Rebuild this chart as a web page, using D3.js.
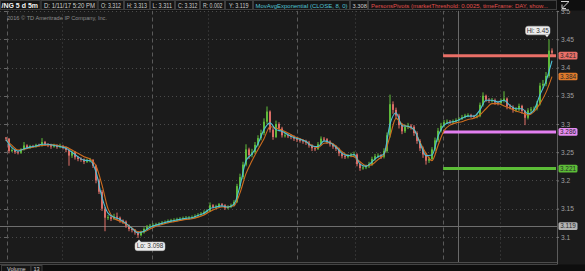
<!DOCTYPE html>
<html><head><meta charset="utf-8">
<script src="https://cdn.jsdelivr.net/npm/d3@7"></script>
<style>html,body{margin:0;padding:0;background:#1c1c1c;overflow:hidden}svg{display:block}</style>
</head><body>
<script>
// ---------- DATA ----------
const firstOpen = 3.276;
const closes = [
3.274,3.252,3.254,3.250,3.249,3.255,3.262,3.258,3.261,3.260,3.263,3.262,3.268,3.264,3.263,3.260,3.262,3.259,3.261,3.258,
3.254,3.244,3.250,3.241,3.238,3.237,3.233,3.236,3.236,3.226,3.200,3.180,3.150,3.134,3.135,3.132,3.136,3.134,3.129,3.127,
3.120,3.114,3.112,3.108,3.103,3.108,3.114,3.118,3.120,3.121,3.122,3.123,3.125,3.126,3.128,3.129,3.130,3.131,3.132,3.133,
3.133,3.134,3.135,3.137,3.139,3.141,3.144,3.146,3.156,3.153,3.154,3.158,3.156,3.151,3.153,3.156,3.162,3.190,3.206,3.228,
3.255,3.245,3.250,3.263,3.275,3.284,3.304,3.322,3.290,3.277,3.300,3.292,3.280,3.280,3.279,3.277,3.274,3.272,3.271,3.269,
3.267,3.262,3.257,3.256,3.264,3.274,3.273,3.269,3.264,3.260,3.256,3.248,3.243,3.242,3.244,3.246,3.246,3.229,3.222,3.223,
3.225,3.229,3.238,3.243,3.244,3.242,3.252,3.280,3.335,3.325,3.315,3.298,3.287,3.295,3.297,3.295,3.284,3.270,3.257,3.246,
3.235,3.238,3.255,3.271,3.288,3.297,3.303,3.304,3.303,3.305,3.307,3.309,3.312,3.315,3.316,3.314,3.313,3.314,3.334,3.350,
3.343,3.341,3.342,3.338,3.337,3.341,3.345,3.331,3.330,3.325,3.326,3.332,3.323,3.311,3.324,3.326,3.327,3.336,3.368,3.371,
3.385,3.430,3.426];
const highs = [
3.277,3.275,3.257,3.256,3.252,3.257,3.268,3.264,3.263,3.263,3.265,3.265,3.275,3.270,3.266,3.265,3.265,3.264,3.265,3.263,
3.260,3.256,3.253,3.252,3.243,3.241,3.239,3.239,3.240,3.238,3.228,3.203,3.183,3.153,3.139,3.138,3.141,3.143,3.136,3.131,
3.129,3.122,3.116,3.114,3.110,3.111,3.117,3.121,3.123,3.124,3.125,3.126,3.128,3.129,3.131,3.132,3.133,3.134,3.135,3.136,
3.137,3.137,3.138,3.140,3.142,3.144,3.147,3.149,3.161,3.158,3.157,3.160,3.160,3.158,3.156,3.159,3.165,3.194,3.212,3.233,
3.264,3.258,3.256,3.268,3.280,3.290,3.310,3.331,3.324,3.293,3.306,3.303,3.295,3.285,3.283,3.282,3.280,3.277,3.275,3.273,
3.272,3.270,3.264,3.260,3.268,3.278,3.277,3.275,3.271,3.266,3.262,3.258,3.250,3.246,3.247,3.249,3.251,3.248,3.231,3.226,
3.228,3.233,3.242,3.247,3.248,3.247,3.257,3.285,3.352,3.340,3.329,3.318,3.301,3.299,3.302,3.300,3.298,3.287,3.273,3.260,
3.249,3.242,3.259,3.276,3.293,3.302,3.307,3.308,3.307,3.308,3.310,3.312,3.316,3.318,3.319,3.318,3.316,3.318,3.338,3.356,
3.352,3.346,3.346,3.345,3.341,3.345,3.358,3.347,3.335,3.333,3.330,3.336,3.334,3.325,3.328,3.330,3.331,3.341,3.373,3.378,
3.392,3.450,3.434];
const lows = [
3.270,3.248,3.250,3.247,3.246,3.247,3.253,3.256,3.256,3.258,3.258,3.260,3.260,3.261,3.259,3.256,3.258,3.256,3.257,3.255,
3.250,3.226,3.240,3.237,3.234,3.233,3.229,3.231,3.232,3.222,3.195,3.176,3.146,3.110,3.130,3.128,3.130,3.130,3.125,3.123,
3.116,3.110,3.108,3.104,3.098,3.101,3.106,3.112,3.116,3.118,3.119,3.120,3.121,3.123,3.124,3.126,3.127,3.128,3.129,3.130,
3.130,3.131,3.132,3.133,3.135,3.137,3.139,3.142,3.144,3.150,3.150,3.151,3.153,3.148,3.149,3.151,3.154,3.160,3.186,3.202,
3.225,3.238,3.241,3.247,3.260,3.271,3.280,3.300,3.285,3.272,3.275,3.287,3.276,3.276,3.275,3.273,3.270,3.268,3.267,3.265,
3.263,3.258,3.252,3.252,3.254,3.262,3.269,3.265,3.260,3.256,3.252,3.243,3.239,3.238,3.239,3.241,3.242,3.225,3.217,3.219,
3.220,3.222,3.226,3.235,3.240,3.238,3.239,3.249,3.276,3.318,3.309,3.292,3.282,3.284,3.291,3.290,3.279,3.265,3.252,3.240,
3.228,3.231,3.235,3.252,3.268,3.285,3.294,3.300,3.300,3.301,3.303,3.305,3.307,3.310,3.312,3.311,3.310,3.310,3.312,3.331,
3.339,3.337,3.338,3.334,3.333,3.334,3.338,3.326,3.326,3.320,3.321,3.323,3.318,3.298,3.308,3.321,3.322,3.324,3.333,3.363,
3.367,3.382,3.420];
// MovAvgExponential (cyan) and slower average (orange), read every 2nd bar
const emaFast = [
3.272,3.258,3.252,3.256,3.259,3.261,3.264,3.264,3.262,3.260,3.257,3.250,3.242,3.236,3.235,3.215,3.170,3.142,3.135,3.131,
3.124,3.115,3.107,3.110,3.117,3.121,3.124,3.127,3.129,3.131,3.133,3.134,3.138,3.142,3.150,3.153,3.155,3.153,3.158,3.190,
3.235,3.247,3.265,3.290,3.302,3.290,3.287,3.281,3.276,3.273,3.269,3.261,3.260,3.270,3.267,3.259,3.248,3.244,3.246,3.229,
3.225,3.233,3.242,3.247,3.300,3.320,3.297,3.296,3.290,3.266,3.244,3.245,3.278,3.298,3.303,3.305,3.310,3.314,3.314,3.325,
3.342,3.342,3.339,3.342,3.333,3.327,3.327,3.318,3.325,3.352,3.376,3.412];
const maSlow = [
3.272,3.262,3.254,3.255,3.258,3.260,3.262,3.263,3.263,3.261,3.259,3.254,3.248,3.242,3.238,3.226,3.192,3.150,3.133,3.128,
3.123,3.116,3.109,3.109,3.114,3.119,3.122,3.125,3.127,3.129,3.131,3.132,3.135,3.139,3.145,3.150,3.153,3.153,3.155,3.178,
3.212,3.235,3.255,3.274,3.295,3.293,3.289,3.284,3.278,3.274,3.269,3.262,3.258,3.266,3.267,3.261,3.251,3.244,3.242,3.233,
3.226,3.228,3.237,3.246,3.278,3.310,3.300,3.295,3.290,3.268,3.248,3.235,3.262,3.288,3.298,3.302,3.304,3.308,3.310,3.316,
3.327,3.336,3.336,3.332,3.328,3.323,3.320,3.316,3.322,3.336,3.356,3.384];
const priceTicks = [3.1,3.15,3.2,3.25,3.3,3.35,3.4,3.45,3.5];
const sessionBreaks = [0.33, 48.7, 97, 145.7];      // bar index of day separators
const midSessionMarks = [18.7, 67.3, 116.3, 164.7]; // bar index of dotted marks
const cursorBar = 150.7;
const pivotValues = [3.421, 3.286, 3.221];
const prevClose = 3.119;
const hiValue = 3.45, hiBar = 181;
const loValue = 3.098, loBar = 44;
const headerTitle = "/NG 5 d 5m";
const headerFields = ["D: 1/11/17 5:20 PM","O: 3.312","H: 3.313","L: 3.311","C: 3.312","R: 0.002","Y: 3.119"];
const studyName = "MovAvgExponential (CLOSE, 8, 0)";
const studyValue = "3.308";
const pivotStudy = "PersonsPivots (marketThreshold: 0.0025, timeFrame: DAY, show...";
const copyright = "2016 \u00A9 TD Ameritrade IP Company, Inc.";
const volumeLabel = "Volume", volumeValue = "13";

// ---------- LAYOUT ----------
const W = 585, H = 271;
const plotL = 0, plotR = 557, plotT = 10.5, plotB = 262;
const FONT = "'Liberation Sans', Arial, sans-serif";
const svg = d3.select("body").append("svg").attr("width", W).attr("height", H);
svg.append("rect").attr("width", W).attr("height", H).attr("fill", "#1b1b1b");

const x = d3.scaleLinear().domain([0, closes.length - 1]).range([6, 552]);
const y = d3.scaleLinear().domain([3.1, 3.45]).range([236.9, 39.3]);
const xMA = i => x(i * 2);

svg.append("defs").append("clipPath").attr("id", "plot")
  .append("rect").attr("x", plotL).attr("y", plotT).attr("width", plotR - plotL).attr("height", plotB - plotT);
const g = svg.append("g").attr("clip-path", "url(#plot)");

// horizontal dotted grid
g.selectAll("line.hg").data(priceTicks).join("line")
  .attr("x1", plotL).attr("x2", plotR).attr("y1", d => Math.round(y(d)) + 0.5).attr("y2", d => Math.round(y(d)) + 0.5)
  .attr("stroke", "#4a4a4a").attr("stroke-dasharray", "1,3");
// vertical separators
g.selectAll("line.dv").data(sessionBreaks).join("line")
  .attr("x1", d => Math.round(x(d)) + 0.5).attr("x2", d => Math.round(x(d)) + 0.5).attr("y1", plotT).attr("y2", plotB)
  .attr("stroke", "#5a5a5a").attr("stroke-dasharray", "4,3");
g.selectAll("line.mv").data(midSessionMarks).join("line")
  .attr("x1", d => Math.round(x(d)) + 0.5).attr("x2", d => Math.round(x(d)) + 0.5).attr("y1", plotT).attr("y2", plotB)
  .attr("stroke", "#4a4a4a").attr("stroke-dasharray", "1,3");
g.append("line").attr("x1", Math.round(x(cursorBar)) + 0.5).attr("x2", Math.round(x(cursorBar)) + 0.5)
  .attr("y1", plotT).attr("y2", plotB).attr("stroke", "#6a6a6a");
// previous close line
g.append("line").attr("x1", plotL).attr("x2", plotR).attr("y1", Math.round(y(prevClose)) + 0.5).attr("y2", Math.round(y(prevClose)) + 0.5)
  .attr("stroke", "#6e6e6e");

// pivot lines
const pivotColors = ["#ea6f67", "#e27ff0", "#5cbd37"];
g.selectAll("line.pv").data(pivotValues).join("line")
  .attr("x1", x(sessionBreaks[3])).attr("x2", plotR - 1).attr("y1", d => y(d)).attr("y2", d => y(d))
  .attr("stroke", (d, i) => pivotColors[i]).attr("stroke-width", 3);

// candles
const bars = closes.map((c, i) => ({ i, o: i === 0 ? firstOpen : closes[i - 1], c, h: highs[i], l: lows[i] }));
const upC = "#62c13c", dnC = "#e5726b";
const cg = g.append("g");
cg.selectAll("line.w").data(bars).join("line")
  .attr("x1", d => x(d.i)).attr("x2", d => x(d.i)).attr("y1", d => y(d.h)).attr("y2", d => y(d.l))
  .attr("stroke", d => d.c >= d.o ? upC : dnC).attr("stroke-width", 1);
cg.selectAll("rect").data(bars).join("rect")
  .attr("x", d => x(d.i) - 0.9).attr("width", 1.8)
  .attr("y", d => y(Math.max(d.o, d.c))).attr("height", d => Math.max(1, Math.abs(y(d.o) - y(d.c))))
  .attr("fill", d => d.c >= d.o ? upC : dnC);

// moving averages
const line = d3.line().x((d, i) => xMA(i)).y(d => y(d)).curve(d3.curveMonotoneX);
g.append("path").datum(maSlow).attr("d", line).attr("fill", "none").attr("stroke", "#cf6d1f").attr("stroke-width", 1.1);
g.append("path").datum(emaFast).attr("d", line).attr("fill", "none").attr("stroke", "#4dbfd6").attr("stroke-width", 1.1);

// left tick marks
svg.selectAll("line.lt").data(priceTicks).join("line")
  .attr("x1", 4).attr("x2", 7).attr("y1", d => Math.round(y(d)) + 0.5).attr("y2", d => Math.round(y(d)) + 0.5)
  .attr("stroke", "#666");

// copyright
svg.append("text").attr("x", 7).attr("y", 19.5).attr("fill", "#8c8c8c").attr("font-family", FONT)
  .attr("font-size", 5.4).attr("textLength", 100).attr("lengthAdjust", "spacingAndGlyphs").text(copyright);

// plot borders
svg.append("line").attr("x1", plotR + 0.5).attr("x2", plotR + 0.5).attr("y1", plotT).attr("y2", plotB + 3).attr("stroke", "#5c5c5c");
svg.append("line").attr("x1", 0).attr("x2", plotR).attr("y1", plotB + 0.5).attr("y2", plotB + 0.5).attr("stroke", "#4c4c4c");

// price axis
const axis = d3.axisRight(y).tickValues(priceTicks).tickSize(2).tickPadding(2)
  .tickFormat(d => String(+d.toFixed(2)));
const ax = svg.append("g").attr("transform", `translate(${plotR},0)`).call(axis);
ax.select(".domain").remove();
ax.selectAll("line").attr("stroke", "#777");
ax.selectAll("text").attr("fill", "#a0a0a0").attr("font-family", FONT).attr("font-size", 6.6);

// value boxes on the axis
const boxVals = [pivotValues[0], maSlow[maSlow.length - 1], pivotValues[1], pivotValues[2], prevClose];
const boxCols = ["#ea6f67", "#e07a2a", "#e58cf2", "#5cbd37", "#b4b4b4"];
const bx = svg.append("g");
boxVals.forEach((v, i) => {
  const cy = y(v);
  bx.append("rect").attr("x", 558.5).attr("y", cy - 3.8).attr("width", 19).attr("height", 7.6).attr("rx", 1.5)
    .attr("fill", boxCols[i]);
  bx.append("text").attr("x", 568).attr("y", cy + 2.3).attr("text-anchor", "middle").attr("fill", "#2a2a2a")
    .attr("font-family", FONT).attr("font-size", 6.4).text(v.toFixed(3));
});

// Hi / Lo callouts
function callout(text, px, py, dir) {
  const w = text.length > 8 ? 30 : 24.5, h = 8.6;
  const bxX = dir === "up" ? px - w + 1 : px - 3;
  const bxY = dir === "up" ? py - h - 4.5 : py + 4;
  const gg = svg.append("g");
  gg.append("rect").attr("x", bxX).attr("y", bxY).attr("width", w).attr("height", h).attr("rx", 2.5)
    .attr("fill", "#ececec").attr("stroke", "#bdbdbd").attr("stroke-width", 0.5);
  const tipX = dir === "up" ? px - 2 : px + 1;
  const ty = dir === "up" ? bxY + h : bxY;
  const ty2 = dir === "up" ? ty + 2.5 : ty - 2.5;
  gg.append("path").attr("d", `M${tipX - 2},${ty} L${tipX},${ty2} L${tipX + 2},${ty} Z`).attr("fill", "#ececec");
  gg.append("text").attr("x", bxX + w / 2).attr("y", bxY + 6.4).attr("text-anchor", "middle").attr("fill", "#333")
    .attr("font-family", FONT).attr("font-size", 6.4).text(text);
}
callout("Hi: " + hiValue, x(hiBar), y(hiValue), "up");
callout("Lo: " + loValue.toFixed(3), x(loBar), y(loValue), "down");

// header
const hd = svg.append("g");
hd.append("rect").attr("x", 0).attr("y", 0).attr("width", W).attr("height", plotT).attr("fill", "#0f0f0f");
const cells = [
  { t: headerTitle, x0: 0, x1: 40.7, tx: 1.5, len: 36.5, fs: 6.6, col: "#f2f2f2", bold: true },
  { t: headerFields[0], x0: 40.7, x1: 97.7, tx: 44, len: 51, fs: 6.4 },
  { t: headerFields[1], x0: 97.7, x1: 124, tx: 101, len: 20, fs: 6.4 },
  { t: headerFields[2], x0: 124, x1: 150, tx: 127, len: 20, fs: 6.4 },
  { t: headerFields[3], x0: 150, x1: 175, tx: 152.5, len: 19.5, fs: 6.4 },
  { t: headerFields[4], x0: 175, x1: 200, tx: 178, len: 19.5, fs: 6.4 },
  { t: headerFields[5], x0: 200, x1: 225, tx: 203, len: 19.5, fs: 6.4 },
  { t: headerFields[6], x0: 225, x1: 253, tx: 229, len: 19.5, fs: 6.4 },
  { t: studyName, x0: 253, x1: 350, tx: 255.5, len: 92, fs: 5.9, col: "#52c3d4" },
  { t: studyValue, x0: 350, x1: 368, tx: 352.5, len: 14.5, fs: 6.2 },
  { t: pivotStudy, x0: 368, x1: 557, tx: 371, len: 177, fs: 6.0, col: "#e0504c" }
];
cells.forEach(c => {
  hd.append("rect").attr("x", c.x0 + 0.5).attr("y", 0.5).attr("width", c.x1 - c.x0 - 1).attr("height", plotT - 1.5)
    .attr("fill", "#151515").attr("stroke", "#3e3e3e").attr("stroke-width", 1);
  hd.append("text").attr("x", c.tx).attr("y", 7.5).attr("fill", c.col || "#cfcfcf")
    .attr("font-family", FONT).attr("font-size", c.fs).attr("font-weight", c.bold ? "bold" : "normal")
    .attr("textLength", c.len).attr("lengthAdjust", "spacingAndGlyphs").text(c.t);
});
// corner icon
hd.append("path").attr("d", "M561,1.5 H569 M568.5,2 L562.5,8 M562,4.5 V8.5 H566 M561,10 H569")
  .attr("stroke", "#d0d0d0").attr("stroke-width", 1).attr("fill", "none");

// volume sub-panel header
const vp = svg.append("g");
vp.append("rect").attr("x", 0).attr("y", 264.5).attr("width", W).attr("height", 6.5).attr("fill", "#0e0e0e");
vp.append("line").attr("x1", 0).attr("x2", plotR).attr("y1", 264.5).attr("y2", 264.5).attr("stroke", "#444");
vp.append("rect").attr("x", 1.5).attr("y", 265.5).attr("width", 29.5).attr("height", 8).attr("fill", "#151515").attr("stroke", "#3e3e3e");
vp.append("rect").attr("x", 31).attr("y", 265.5).attr("width", 11).attr("height", 8).attr("fill", "#151515").attr("stroke", "#3e3e3e");
vp.append("text").attr("x", 7).attr("y", 270.6).attr("fill", "#cfcfcf").attr("font-family", FONT).attr("font-size", 5.6).text(volumeLabel);
vp.append("text").attr("x", 33.5).attr("y", 270.6).attr("fill", "#cfcfcf").attr("font-family", FONT).attr("font-size", 5.6).text(volumeValue);
</script>
</body></html>
